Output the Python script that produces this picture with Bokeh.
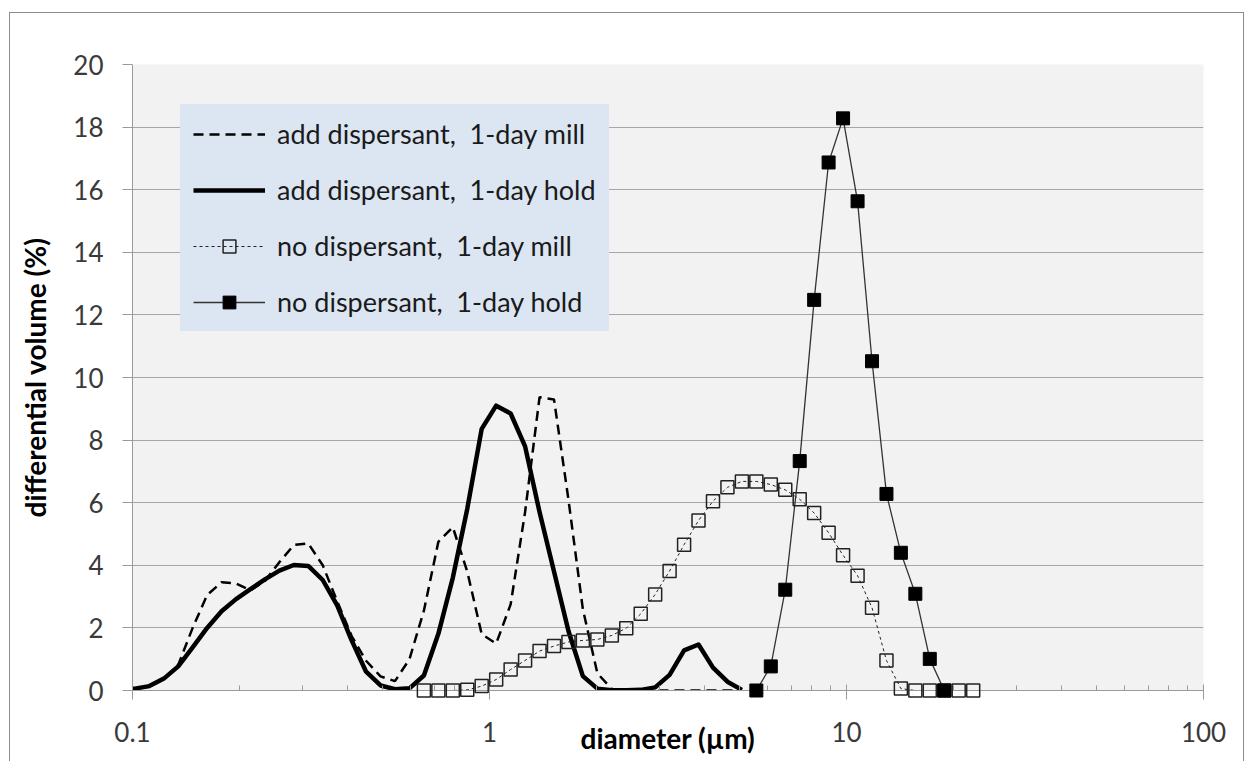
from bokeh.plotting import figure
from bokeh.models import (FixedTicker, PrintfTickFormatter, Legend, LegendItem,
                          Range1d)
from bokeh.embed import file_html
from bokeh.resources import INLINE

# ---------------- data ----------------
# particle-size channels (um) for the "add dispersant" curves
x_add = [0.0925, 0.1015, 0.1115, 0.1224, 0.1343, 0.1474, 0.1618, 0.1776, 0.1950,
         0.2140, 0.2349, 0.2579, 0.2831, 0.3107, 0.3411, 0.3744, 0.4110, 0.4511,
         0.4952, 0.5436, 0.5967, 0.6550, 0.7190, 0.7892, 0.8663, 0.9509, 1.044,
         1.146, 1.258, 1.381, 1.516, 1.664, 1.826, 2.005, 2.201, 2.416, 2.652,
         2.911, 3.195, 3.508, 3.850, 4.227, 4.640, 5.093]
add_mill = [0.02, 0.05, 0.13, 0.36, 0.82, 2.0, 3.05, 3.46, 3.42,
            3.2, 3.5, 4.1, 4.65, 4.7, 4.0, 2.85, 1.74, 0.95,
            0.45, 0.3, 1.0, 2.55, 4.75, 5.22, 3.8, 1.8, 1.5,
            2.75, 5.7, 9.37, 9.3, 6.1, 2.6, 0.55, 0.05, 0.0, 0.0,
            0.0, 0.0, 0.0, 0.0, 0.0, 0.0, 0.0]
add_hold = [0.02, 0.06, 0.14, 0.38, 0.77, 1.38, 2.0, 2.53, 2.92,
            3.24, 3.55, 3.83, 4.01, 3.98, 3.53, 2.72, 1.6, 0.6,
            0.16, 0.04, 0.07, 0.48, 1.81, 3.6, 5.8, 8.36, 9.1,
            8.85, 7.8, 5.7, 3.8, 1.9, 0.46, 0.06, 0.01, 0.01, 0.02,
            0.1, 0.5, 1.28, 1.47, 0.73, 0.28, 0.02]

x_no_mill = [0.6550, 0.7190, 0.7892, 0.8663, 0.9509, 1.044, 1.146, 1.258, 1.381,
             1.516, 1.664, 1.826, 2.005, 2.201, 2.416, 2.652, 2.911, 3.195, 3.508,
             3.850, 4.227, 4.640, 5.093, 5.591, 6.137, 6.737, 7.395, 8.117, 8.910,
             9.781, 10.74, 11.79, 12.94, 14.20, 15.59, 17.11, 18.79, 20.62, 22.64]
no_mill = [0.0, 0.0, 0.0, 0.02, 0.14, 0.35, 0.67, 0.96, 1.26,
           1.42, 1.55, 1.6, 1.63, 1.76, 1.99, 2.45, 3.07, 3.82, 4.66,
           5.43, 6.05, 6.49, 6.68, 6.68, 6.58, 6.41, 6.11, 5.67, 5.04,
           4.32, 3.67, 2.64, 0.96, 0.06, 0.0, 0.0, 0.0, 0.0, 0.0]

x_no_hold = [5.591, 6.137, 6.737, 7.395, 8.117, 8.910, 9.781, 10.74, 11.79,
             12.94, 14.20, 15.59, 17.11, 18.79]
no_hold = [0.0, 0.77, 3.22, 7.33, 12.48, 16.87, 18.28, 15.63, 10.52,
           6.28, 4.40, 3.09, 1.01, 0.0]

series_labels = ["add dispersant,  1-day mill", "add dispersant,  1-day hold",
                 "no dispersant,  1-day mill", "no dispersant,  1-day hold"]

y_ticks = [0, 2, 4, 6, 8, 10, 12, 14, 16, 18, 20]
x_major = [0.1, 1, 10, 100]
x_minor = [0.2, 0.3, 0.4, 0.5, 0.6, 0.7, 0.8, 0.9,
           2, 3, 4, 5, 6, 7, 8, 9,
           20, 30, 40, 50, 60, 70, 80, 90]

x_title = "diameter (\u00b5m)"
y_title = "differential volume (%)"

# ---------------- figure ----------------
FONT = "Lato"
BORDER = "1px solid #8C8C8C"
p = figure(width=1235, height=749, x_axis_type="log",
           x_range=Range1d(0.1, 100), y_range=Range1d(0, 20),
           output_backend="svg", toolbar_location=None,
           min_border_left=122, min_border_right=42,
           min_border_top=51, min_border_bottom=72)
p.styles = {"margin-left": "9px", "margin-top": "12px",
            "border-left": BORDER, "border-top": BORDER, "border-right": BORDER}
p.background_fill_color = "#F2F2F2"
p.border_fill_color = "white"
p.outline_line_color = None

p.xgrid.visible = False
p.ygrid.ticker = FixedTicker(ticks=y_ticks)
p.ygrid.grid_line_color = "#A6A6A6"
p.ygrid.grid_line_width = 1

xa = p.xaxis[0]
xa.ticker = FixedTicker(ticks=x_major, minor_ticks=x_minor)
xa.formatter = PrintfTickFormatter(format="%g")
xa.axis_line_color = "#9A9A9A"
xa.major_tick_line_color = "#9A9A9A"
xa.minor_tick_line_color = "#9A9A9A"
xa.major_tick_in = 6
xa.major_tick_out = 9
xa.minor_tick_in = 5
xa.minor_tick_out = 0
xa.major_label_standoff = 22
xa.major_label_text_font = FONT
xa.major_label_text_font_size = "26px"
xa.major_label_text_color = "#3a3a3a"
xa.axis_label = x_title
xa.axis_label_text_font = FONT
xa.axis_label_text_font_size = "28px"
xa.axis_label_text_font_style = "bold"
xa.axis_label_text_color = "black"
xa.axis_label_standoff = -24

ya = p.yaxis[0]
ya.ticker = FixedTicker(ticks=y_ticks)
ya.axis_line_color = "#9A9A9A"
ya.major_tick_line_color = "#9A9A9A"
ya.major_tick_in = 0
ya.major_tick_out = 10
ya.minor_tick_line_color = None
ya.major_label_standoff = 19
ya.major_label_text_font = FONT
ya.major_label_text_font_size = "26px"
ya.major_label_text_color = "#3a3a3a"
ya.axis_label = y_title
ya.axis_label_text_font = FONT
ya.axis_label_text_font_size = "28px"
ya.axis_label_text_font_style = "bold"
ya.axis_label_text_color = "black"
ya.axis_label_standoff = 18

# ---------------- series ----------------
r1 = p.line(x_add, add_mill, line_color="black", line_width=2.5, line_dash="10 6")
r2 = p.line(x_add, add_hold, line_color="black", line_width=4.5, line_join="round")
r3l = p.line(x_no_mill, no_mill, line_color="#222222", line_width=1, line_dash="3 3")
r3s = p.scatter(x_no_mill, no_mill, marker="square", size=13, fill_color=None,
                line_color="#222222", line_width=1.5, level="overlay")
r4l = p.line(x_no_hold, no_hold, line_color="#333333", line_width=1.3)
r4s = p.scatter(x_no_hold, no_hold, marker="square", size=13, fill_color="black",
                line_color="black", line_width=1, level="overlay")

LEG_BG = "#DCE6F2"
legend = Legend(items=[
    LegendItem(label=series_labels[0], renderers=[r1]),
    LegendItem(label=series_labels[1], renderers=[r2]),
    LegendItem(label=series_labels[2], renderers=[r3l, r3s]),
    LegendItem(label=series_labels[3], renderers=[r4l, r4s]),
], location=(48, 359))
legend.background_fill_color = LEG_BG
legend.background_fill_alpha = 1
# border in the background colour gives the box its inner padding
legend.border_line_color = LEG_BG
legend.border_line_width = 13
legend.border_line_alpha = 1
legend.border_line_join = "miter"
legend.label_text_font = FONT
legend.label_text_font_size = "27px"
legend.label_text_color = "#1a1a1a"
legend.glyph_width = 72
legend.glyph_height = 32
legend.label_height = 32
legend.spacing = 23
legend.padding = 0
legend.margin = 0
legend.label_standoff = 12
p.add_layout(legend)

open("out.html", "w").write(file_html(p, INLINE))
